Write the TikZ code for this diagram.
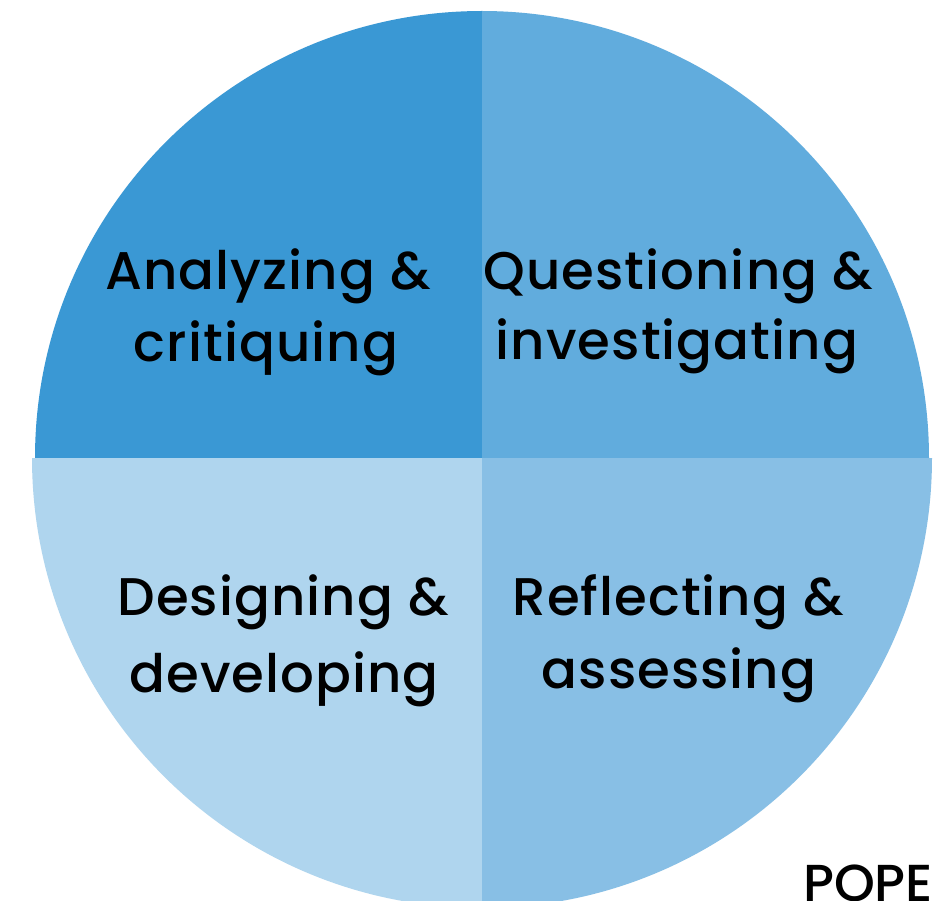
\documentclass[tikz,border=0pt]{standalone}
\usepackage{fontspec}
\newfontfamily\quadfont{Poppins Medium}[LetterSpace=2]
\newfontfamily\logofont{Poppins Medium}
\definecolor{quadA}{HTML}{3A98D4}
\definecolor{quadB}{HTML}{61ACDD}
\definecolor{quadC}{HTML}{AFD5EE}
\definecolor{quadD}{HTML}{88BFE5}
\tikzset{
  quadtext/.style={anchor=base, inner sep=0pt, font=\quadfont\fontsize{53}{64}\selectfont},
}
\begin{document}
\begin{tikzpicture}[x=1pt,y=-1pt]
	% page and background
	\useasboundingbox (0,0) rectangle (943,901);
	\fill[white] (0,0) rectangle (943,901);

	% upper half of the wheel
	\begin{scope}
		\clip (482,458) circle[radius=447pt];
		\fill[quadA] (0,0) rectangle (482,458);
		\fill[quadB] (482,0) rectangle (943,458);
	\end{scope}
	% lower half, a little wider
	\begin{scope}
		\clip (482,458) circle[radius=450pt];
		\fill[quadC] (0,458) rectangle (482,901);
		\fill[quadD] (482,458) rectangle (943,901);
	\end{scope}

	% quadrant labels
	\node[quadtext] (ana) at (268,290) {Analyzing \&};
	\node[quadtext] (cri) at (266,362) {critiquing};
	\node[quadtext] (que) at (678,290) {Questioning \&};
	\node[quadtext] (inv) at (677,360) {investigating};
	\node[quadtext] (des) at (283,615) {Designing \&};
	\node[quadtext] (dev) at (284,692) {developing};
	\node[quadtext] (ref) at (678,615) {Reflecting \&};
	\node[quadtext] (ass) at (679,688) {assessing};

	% corner mark, cut by the page edge
	\node[anchor=base west, inner sep=0pt, font=\logofont\fontsize{52}{60}\selectfont] (pope) at (803,901) {POPE};
\end{tikzpicture}
\end{document}
